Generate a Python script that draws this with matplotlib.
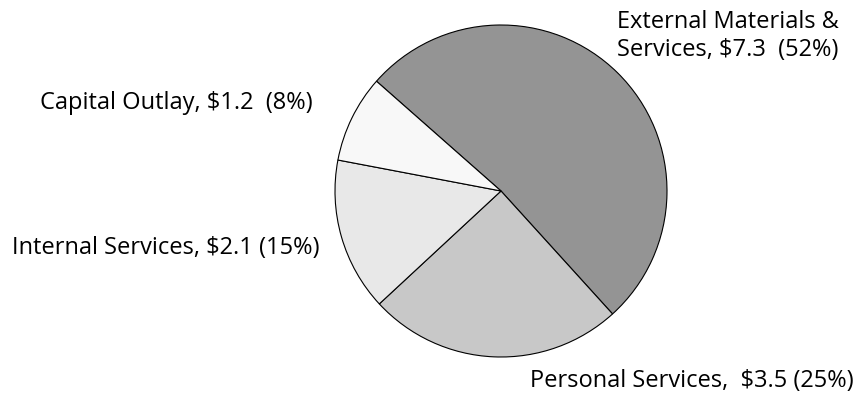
import matplotlib.pyplot as plt

# budget in $ millions
categories = ['External Materials &\nServices', 'Personal Services', 'Internal Services', 'Capital Outlay']
values = [7.3, 3.5, 2.1, 1.2]
label_text = ['External Materials &\nServices, $7.3  (52%)',
              'Personal Services,  $3.5 (25%)',
              'Internal Services, $2.1 (15%)',
              'Capital Outlay, $1.2  (8%)']
colors = ['#949494', '#c8c8c8', '#e8e8e8', '#f8f8f8']

plt.rcParams['font.family'] = ['Open Sans', 'DejaVu Sans']

fig = plt.figure(figsize=(8.61, 3.94), dpi=100)
ax = fig.add_axes([0, 0, 1, 1])

ax.pie(values, colors=colors, startangle=138.6, counterclock=False,
       center=(501, 203), radius=166, frame=True,
       wedgeprops=dict(edgecolor='black', linewidth=0.8))
ax.set_xlim(0, 861)
ax.set_ylim(0, 394)
ax.set_aspect('equal')
ax.axis('off')

# label positions (pixels from bottom-left)
pos = [(617, 358), (530, 13), (12, 146), (40, 291)]
for t, (x, y) in zip(label_text, pos):
    ax.text(x, y, t, ha='left', va='center', fontsize=17, linespacing=1.25)

fig.savefig('out.png', dpi=100)
